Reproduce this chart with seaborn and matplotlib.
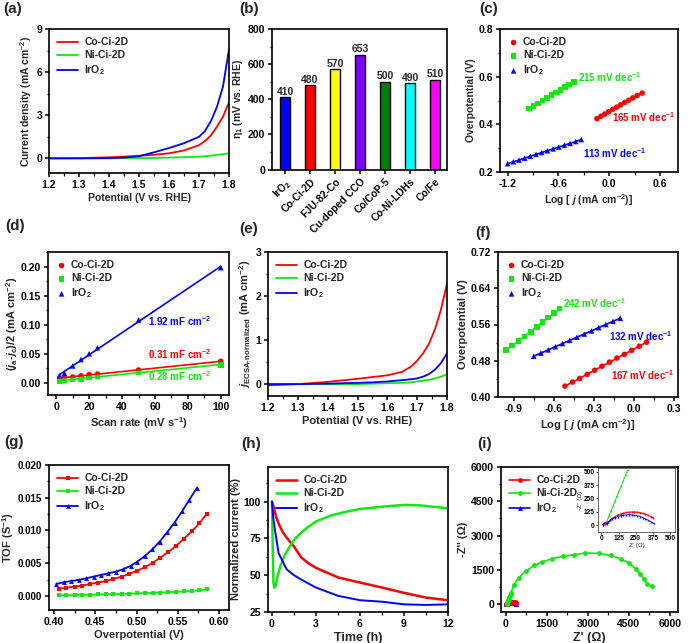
import numpy as np
import pandas as pd
import matplotlib
matplotlib.use('Agg')
import matplotlib.pyplot as plt
import seaborn as sns
from matplotlib.ticker import AutoMinorLocator, MultipleLocator, FixedLocator

# ---------------- data ----------------
labels3 = ['Co-Ci-2D', 'Ni-Ci-2D', 'IrO$_2$']

# (a) LSV
a_x = [1.20, 1.30, 1.40, 1.45, 1.50, 1.55, 1.60, 1.65, 1.70, 1.72, 1.74, 1.76, 1.78, 1.80]
a_co = [0.0, 0.02, 0.07, 0.12, 0.18, 0.25, 0.35, 0.55, 0.92, 1.2, 1.6, 2.2, 2.9, 3.9]
a_ni = [0.0, 0.0, 0.0, 0.01, 0.02, 0.03, 0.05, 0.08, 0.12, 0.15, 0.19, 0.24, 0.29, 0.35]
a_ir = [0.0, 0.0, 0.02, 0.05, 0.15, 0.42, 0.72, 1.05, 1.5, 1.9, 2.6, 3.6, 5.0, 7.6]

# (b) overpotential comparison
b_names = ['IrO$_2$', 'Co-Ci-2D', 'FJU-82-Co', 'Cu-doped CCO', 'Co/CoP-5', 'Co-Ni-LDHs', 'Co/Fe']
b_vals = [410, 480, 570, 653, 500, 490, 510]
b_colors = ['#0000ff', '#ff0000', '#ffff00', '#7f00ff', '#008000', '#00ffff', '#ff00ff']

# (c) Tafel
c_co_x = [-0.146, -0.099, -0.055, -0.008, 0.040, 0.087, 0.134, 0.182, 0.229, 0.277, 0.328, 0.387]
c_co_y = [0.424, 0.434, 0.443, 0.453, 0.463, 0.472, 0.482, 0.492, 0.501, 0.511, 0.521, 0.531]
c_ni_x = [-0.948, -0.895, -0.842, -0.789, -0.737, -0.684, -0.631, -0.578, -0.526, -0.473, -0.420]
c_ni_y = [0.466, 0.477, 0.488, 0.500, 0.511, 0.522, 0.533, 0.544, 0.556, 0.567, 0.578]
c_ir_x = [-1.200, -1.133, -1.066, -0.999, -0.932, -0.865, -0.798, -0.731, -0.664, -0.597,
          -0.530, -0.463, -0.396, -0.330]
c_ir_y = [0.235, 0.243, 0.250, 0.258, 0.266, 0.274, 0.282, 0.289, 0.297, 0.305, 0.313, 0.320,
          0.328, 0.336]

# (d) double-layer capacitance
d_x = [2, 5, 10, 15, 20, 25, 50, 100]
d_co = [0.008, 0.009, 0.010, 0.012, 0.014, 0.015, 0.022, 0.037]
d_ni = [0.003, 0.004, 0.006, 0.007, 0.009, 0.011, 0.018, 0.031]
d_ir = [0.012, 0.016, 0.029, 0.040, 0.050, 0.060, 0.108, 0.198]

# (e) ECSA-normalized LSV
e_x = [1.20, 1.30, 1.40, 1.50, 1.55, 1.60, 1.65, 1.68, 1.70, 1.72, 1.74, 1.76, 1.78, 1.80]
e_co = [-0.03, 0.0, 0.05, 0.12, 0.16, 0.20, 0.28, 0.40, 0.53, 0.70, 0.92, 1.25, 1.70, 2.28]
e_ni = [0.0, 0.0, 0.0, 0.0, 0.01, 0.02, 0.03, 0.04, 0.06, 0.08, 0.10, 0.13, 0.17, 0.22]
e_ir = [0.0, 0.0, 0.01, 0.03, 0.04, 0.06, 0.09, 0.11, 0.13, 0.17, 0.23, 0.33, 0.48, 0.70]

# (f) ECSA-normalized Tafel
f_co_x = [-0.518, -0.462, -0.407, -0.351, -0.295, -0.240, -0.184, -0.128, -0.073, -0.017, 0.039, 0.094]
f_co_y = [0.424, 0.433, 0.441, 0.450, 0.459, 0.468, 0.477, 0.486, 0.494, 0.503, 0.512, 0.521]
f_ni_x = [-0.958, -0.913, -0.865, -0.820, -0.774, -0.729, -0.686, -0.643, -0.601, -0.560]
f_ni_y = [0.504, 0.514, 0.524, 0.534, 0.544, 0.554, 0.565, 0.575, 0.585, 0.595]
f_ir_x = [-0.752, -0.698, -0.644, -0.590, -0.536, -0.482, -0.428, -0.373, -0.319, -0.265,
          -0.211, -0.157, -0.103]
f_ir_y = [0.490, 0.497, 0.504, 0.511, 0.518, 0.525, 0.532, 0.539, 0.546, 0.553, 0.560, 0.567, 0.574]

# (g) TOF
g_x = [0.406, 0.415, 0.425, 0.434, 0.444, 0.453, 0.463, 0.472, 0.482, 0.491, 0.501, 0.510,
       0.520, 0.529, 0.538, 0.548, 0.557, 0.567, 0.576, 0.585]
g_co = [0.00107, 0.00128, 0.00143, 0.00158, 0.00184, 0.00204, 0.0023, 0.0026, 0.00296, 0.00337,
        0.00388, 0.00439, 0.0051, 0.00587, 0.00668, 0.00765, 0.00872, 0.00985, 0.0111, 0.01255]
g_ni = [0.00010, 0.00012, 0.00015, 0.00017, 0.00020, 0.00023, 0.00026, 0.00029, 0.00032, 0.00036,
        0.00040, 0.00044, 0.00048, 0.00053, 0.00058, 0.00064, 0.00070, 0.00078, 0.00088, 0.00100]
g_ir_x = [0.403, 0.412, 0.421, 0.430, 0.439, 0.448, 0.457, 0.466, 0.475, 0.484, 0.493, 0.501,
          0.510, 0.519, 0.528, 0.537, 0.546, 0.555, 0.564, 0.573]
g_ir = [0.00184, 0.0021, 0.0023, 0.00245, 0.0027, 0.00296, 0.00321, 0.00347, 0.00372, 0.0041,
        0.0046, 0.00526, 0.0061, 0.0071, 0.0083, 0.0097, 0.0112, 0.0129, 0.0147, 0.0165]

# (h) chronoamperometry
h_co_t = [0, 0.1, 0.3, 0.5, 0.75, 1.0, 1.5, 2.0, 2.5, 3.0, 4.5, 6.0, 7.5, 9.0, 10.5, 12.0]
h_co = [100, 97, 89, 84, 79, 75.5, 69.5, 62, 58, 55, 48.5, 45, 41.6, 38, 34.8, 33]
h_ni_t = [0, 0.05, 0.1, 0.16, 0.25, 0.4, 0.6, 0.8, 1.0, 1.3, 1.6, 2.0, 2.5, 3.0, 3.5, 4.0, 5.0,
          6.0, 7.0, 8.0, 9.0, 10.0, 11.0, 12.0]
h_ni = [100, 70, 45, 41.5, 43, 50, 57, 62, 66, 71, 75, 79, 83, 86.5, 88.5, 90.5, 93, 95, 96,
        97, 97.7, 97.5, 96.5, 95.5]
h_ir_t = [0, 0.1, 0.2, 0.45, 1.0, 1.5, 2.0, 3.0, 4.5, 6.0, 7.5, 9.0, 10.5, 12.0]
h_ir = [100, 88, 81, 65, 54, 50, 47, 41.6, 36, 33, 32, 30.2, 29.8, 30.2]

# (i) Nyquist
i_ni_x = [28, 40, 55, 70, 85, 100, 115, 130, 145, 160, 175, 190, 282, 465, 734, 1040, 1322,
          1689, 2081, 2485, 2913, 3403, 3831, 4198, 4504, 4749, 4908, 5055, 5178, 5361]
i_ni_y = [0, 40, 85, 135, 180, 230, 275, 325, 370, 420, 465, 515, 830, 1164, 1456, 1703, 1849,
          1994, 2096, 2169, 2242, 2227, 2140, 1994, 1805, 1557, 1339, 1121, 873, 780]
i_co_x = [10, 20, 30, 40, 50, 65, 80, 100, 120, 140, 160, 180, 200, 220, 240, 260, 280, 300,
          320, 340, 360, 375]
i_co_y = [5, 15, 20, 15, 30, 50, 65, 80, 95, 105, 112, 118, 121, 123, 123, 121, 117, 110, 102,
          92, 80, 70]
i_ir_x = [10, 20, 30, 40, 50, 65, 80, 100, 120, 140, 160, 180, 200, 220, 240, 260, 280, 300,
          320, 340, 360, 380]
i_ir_y = [5, 15, 20, 12, 28, 45, 58, 70, 80, 88, 93, 96, 97, 96, 93, 88, 80, 70, 58, 45, 30, 15]

# ---------------- style ----------------
RED, GREEN, BLUE = '#ff0000', '#10e810', '#0000ff'
ANN = 7.0

sns.set_theme(style='ticks')
plt.rcParams.update({
    'font.family': ['Liberation Sans', 'DejaVu Sans'],
    'font.weight': 'bold',
    'font.size': 7.5,
    'axes.labelweight': 'bold',
    'axes.labelsize': 7.5,
    'axes.linewidth': 1.2,
    'axes.edgecolor': 'black',
    'axes.unicode_minus': False,
    'xtick.labelsize': 7.5,
    'ytick.labelsize': 7.5,
    'xtick.direction': 'out',
    'ytick.direction': 'out',
    'xtick.major.size': 3,
    'ytick.major.size': 3,
    'xtick.minor.size': 1.8,
    'ytick.minor.size': 1.8,
    'xtick.major.width': 1.1,
    'ytick.major.width': 1.1,
    'xtick.minor.width': 0.9,
    'ytick.minor.width': 0.9,
    'xtick.color': 'black',
    'ytick.color': 'black',
    'xtick.major.pad': 2,
    'ytick.major.pad': 2,
    'axes.labelpad': 2,
    'mathtext.fontset': 'custom',
    'mathtext.rm': 'Liberation Sans:bold',
    'mathtext.bf': 'Liberation Sans:bold',
    'mathtext.it': 'Liberation Sans:italic:bold',
    'mathtext.default': 'rm',
    'legend.fontsize': 7.5,
})

W, H = 693, 643
fig = plt.figure(figsize=(W / 100, H / 100), dpi=100)


def add_ax(l, t, r, b):
    return fig.add_axes([l / W, 1 - b / H, (r - l) / W, (b - t) / H])


def panel_label(x, y, s):
    fig.text(x / W, 1 - y / H, s, fontsize=11, fontweight='bold', va='top', ha='left')


def finish(ax, minor_x=True):
    ax.yaxis.set_minor_locator(AutoMinorLocator(2))
    if minor_x:
        ax.xaxis.set_minor_locator(AutoMinorLocator(2))
    for s in ax.spines.values():
        s.set_visible(True)
        s.set_linewidth(1.2)


def leg(ax, **kw):
    base = dict(loc='upper left', frameon=False, handlelength=2.0, handletextpad=0.6,
                labelspacing=0.3, borderaxespad=0.4, fontsize=7.5)
    base.update(kw)
    return ax.legend(**base)


# ---------------- (a) ----------------
ax = add_ax(49, 29, 229, 173)
for y, c, lab in [(a_co, RED, labels3[0]), (a_ni, GREEN, labels3[1]), (a_ir, BLUE, labels3[2])]:
    sns.lineplot(x=a_x, y=y, color=c, lw=1.3, ax=ax, label=lab, sort=False)
ax.set_xlim(1.2, 1.8)
ax.set_ylim(-1.02, 9)
ax.yaxis.set_major_locator(MultipleLocator(3))
ax.xaxis.set_major_locator(MultipleLocator(0.1))
ax.set_xlabel('Potential (V vs. RHE)')
ax.set_ylabel('Current density (mA cm$^{-2}$)')
finish(ax)
leg(ax)
panel_label(3, 2, '(a)')

# ---------------- (b) ----------------
ax = add_ax(272, 29, 447, 169.5)
dfb = pd.DataFrame({'name': b_names, 'val': b_vals})
sns.barplot(data=dfb, x='name', y='val', hue='name', palette=b_colors, legend=False,
            width=0.41, edgecolor='black', linewidth=1.0, saturation=1, ax=ax)
for cont in ax.containers:
    ax.bar_label(cont, fontsize=7.5, fontweight='bold', padding=0.5)
ax.set_xlim(-0.52, 6.47)
ax.set_ylim(0, 800)
ax.yaxis.set_major_locator(MultipleLocator(200))
ax.set_xlabel('')
ax.set_ylabel('η$_1$ (mV vs. RHE)')
ax.set_xticks(range(len(b_names)))
ax.set_xticklabels(b_names, rotation=45, ha='right', rotation_mode='anchor', fontsize=7.3)
finish(ax, minor_x=False)
panel_label(239, 2, '(b)')

# ---------------- (c) ----------------
ax = add_ax(500, 29, 678, 172)
for xs, ys, c, m, lab in [(c_co_x, c_co_y, RED, 'o', labels3[0]),
                          (c_ni_x, c_ni_y, GREEN, 's', labels3[1]),
                          (c_ir_x, c_ir_y, BLUE, '^', labels3[2])]:
    sns.regplot(x=xs, y=ys, ci=None, scatter=False, color=c, line_kws=dict(lw=1.2), ax=ax)
    sns.scatterplot(x=xs, y=ys, marker=m, color=c, s=16, edgecolor='none', ax=ax, label=lab)
ax.set_xlim(-1.29, 0.81)
ax.set_ylim(0.2, 0.8)
ax.xaxis.set_major_locator(FixedLocator([-1.2, -0.6, 0.0, 0.6]))
ax.yaxis.set_major_locator(MultipleLocator(0.2))
ax.set_xticklabels(['-1.2', '-0.6', '0.0', '0.6'])
ax.xaxis.set_minor_locator(FixedLocator([-0.9, -0.3, 0.3]))
ax.yaxis.set_minor_locator(AutoMinorLocator(2))
for s in ax.spines.values():
    s.set_visible(True)
ax.text(-0.37, 0.60, '215 mV dec$^{-1}$', color=GREEN, fontsize=ANN, fontweight='bold', va='center')
ax.text(0.035, 0.43, '165 mV dec$^{-1}$', color=RED, fontsize=ANN, fontweight='bold', va='center')
ax.text(-0.31, 0.28, '113 mV dec$^{-1}$', color=BLUE, fontsize=ANN, fontweight='bold', va='center')
ax.set_xlabel('Log [ $\\mathit{j}$ (mA cm$^{-2}$)]')
ax.set_ylabel('Overpotential (V)')
leg(ax, handlelength=1.0, handletextpad=0.4)
panel_label(479, 2, '(c)')

# ---------------- (d) ----------------
ax = add_ax(48, 252, 229, 395)
for ys, c, m, lab in [(d_co, RED, 'o', labels3[0]), (d_ni, GREEN, 's', labels3[1]),
                      (d_ir, BLUE, '^', labels3[2])]:
    sns.regplot(x=d_x, y=ys, ci=None, scatter=False, color=c, line_kws=dict(lw=1.2), ax=ax)
    sns.scatterplot(x=d_x, y=ys, marker=m, color=c, s=16, edgecolor='none', ax=ax, label=lab)
ax.set_xlim(-5, 105)
ax.set_ylim(-0.021, 0.225)
ax.xaxis.set_major_locator(MultipleLocator(20))
ax.yaxis.set_major_locator(MultipleLocator(0.05))
ax.yaxis.set_major_formatter(matplotlib.ticker.FormatStrFormatter('%.2f'))
ax.text(56, 0.106, '1.92 mF cm$^{-2}$', color=BLUE, fontsize=ANN, fontweight='bold', va='center')
ax.text(56, 0.049, '0.31 mF cm$^{-2}$', color=RED, fontsize=ANN, fontweight='bold', va='center')
ax.text(56, 0.012, '0.28 mF cm$^{-2}$', color=GREEN, fontsize=ANN, fontweight='bold', va='center')
ax.set_xlabel('Scan rate (mV s$^{-1}$)', fontsize=8)
ax.set_ylabel('($\\mathit{j}_a$-$\\mathit{j}_c$)/2 (mA cm$^{-2}$)', fontsize=8)
ax.yaxis.set_label_coords(-0.155, 0.5)
finish(ax)
leg(ax, handlelength=1.0, handletextpad=0.4)
panel_label(5, 219, '(d)')

# ---------------- (e) ----------------
ax = add_ax(268, 252, 447, 396)
for y, c, lab in [(e_co, RED, labels3[0]), (e_ni, GREEN, labels3[1]), (e_ir, BLUE, labels3[2])]:
    sns.lineplot(x=e_x, y=y, color=c, lw=1.3, ax=ax, label=lab, sort=False)
ax.set_xlim(1.2, 1.8)
ax.set_ylim(-0.27, 3)
ax.yaxis.set_major_locator(MultipleLocator(1))
ax.xaxis.set_major_locator(MultipleLocator(0.1))
ax.set_xlabel('Potential (V vs. RHE)', fontsize=8)
ax.set_ylabel('$\\mathit{j}_{\\mathrm{ECSA\u2010normalized}}$ (mA cm$^{-2}$)', fontsize=8)
finish(ax)
leg(ax)
panel_label(239, 222, '(e)')

# ---------------- (f) ----------------
ax = add_ax(498, 252, 678, 397)
for xs, ys, c, m, lab in [(f_co_x, f_co_y, RED, 'o', labels3[0]),
                          (f_ni_x, f_ni_y, GREEN, 's', labels3[1]),
                          (f_ir_x, f_ir_y, BLUE, '^', labels3[2])]:
    sns.regplot(x=xs, y=ys, ci=None, scatter=False, color=c, line_kws=dict(lw=1.2), ax=ax)
    sns.scatterplot(x=xs, y=ys, marker=m, color=c, s=16, edgecolor='none', ax=ax, label=lab)
ax.set_xlim(-1.02, 0.33)
ax.set_ylim(0.40, 0.72)
ax.xaxis.set_major_locator(FixedLocator([-0.9, -0.6, -0.3, 0.0, 0.3]))
ax.set_xticklabels(['-0.9', '-0.6', '-0.3', '0.0', '0.3'])
ax.yaxis.set_major_locator(MultipleLocator(0.08))
ax.yaxis.set_major_formatter(matplotlib.ticker.FormatStrFormatter('%.2f'))
ax.xaxis.set_minor_locator(FixedLocator([-0.75, -0.45, -0.15, 0.15]))
ax.yaxis.set_minor_locator(AutoMinorLocator(2))
for s in ax.spines.values():
    s.set_visible(True)
ax.text(-0.53, 0.608, '242 mV dec$^{-1}$', color=GREEN, fontsize=ANN, fontweight='bold', va='center')
ax.text(-0.19, 0.535, '132 mV dec$^{-1}$', color=BLUE, fontsize=ANN, fontweight='bold', va='center')
ax.text(-0.17, 0.449, '167 mV dec$^{-1}$', color=RED, fontsize=ANN, fontweight='bold', va='center')
ax.set_xlabel('Log [ $\\mathit{j}$ (mA cm$^{-2}$)]', fontsize=8)
ax.set_ylabel('Overpotential (V)', fontsize=8)
leg(ax, handlelength=1.0, handletextpad=0.4)
panel_label(475, 226, '(f)')

# ---------------- (g) ----------------
ax = add_ax(49, 465, 229, 610)
sns.lineplot(x=g_x, y=g_co, color=RED, lw=1.3, marker='s', markersize=3, markeredgewidth=0,
             ax=ax, label=labels3[0], sort=False)
sns.lineplot(x=g_x, y=g_ni, color=GREEN, lw=1.3, marker='s', markersize=3, markeredgewidth=0,
             ax=ax, label=labels3[1], sort=False)
sns.lineplot(x=g_ir_x, y=g_ir, color=BLUE, lw=1.3, marker='^', markersize=3.5, markeredgewidth=0,
             ax=ax, label=labels3[2], sort=False)
ax.set_xlim(0.394, 0.612)
ax.set_ylim(-0.00214, 0.020)
ax.xaxis.set_major_locator(MultipleLocator(0.05))
ax.yaxis.set_major_locator(MultipleLocator(0.005))
ax.xaxis.set_major_formatter(matplotlib.ticker.FormatStrFormatter('%.2f'))
ax.yaxis.set_major_formatter(matplotlib.ticker.FormatStrFormatter('%.3f'))
ax.tick_params(axis='y', labelsize=7)
ax.set_xlabel('Overpotential (V)', fontsize=8)
ax.set_ylabel('TOF (S$^{-1}$)', fontsize=8)
ax.yaxis.set_label_coords(-0.185, 0.5)
finish(ax)
leg(ax)
panel_label(4, 435, '(g)')

# ---------------- (h) ----------------
ax = add_ax(268, 467, 448, 612)
sns.lineplot(x=h_co_t, y=h_co, color=RED, lw=1.8, ax=ax, label=labels3[0], sort=False)
sns.lineplot(x=h_ni_t, y=h_ni, color=GREEN, lw=1.8, ax=ax, label=labels3[1], sort=False)
sns.lineplot(x=h_ir_t, y=h_ir, color=BLUE, lw=1.4, ax=ax, label=labels3[2], sort=False)
ax.set_xlim(-0.27, 12)
ax.set_ylim(25, 123.5)
ax.xaxis.set_major_locator(MultipleLocator(3))
ax.yaxis.set_major_locator(FixedLocator([25, 50, 75, 100]))
ax.set_xlabel('Time (h)', fontsize=9)
ax.set_ylabel('Normalized current (%)', fontsize=8)
finish(ax)
leg(ax)
panel_label(241, 437, '(h)')

# ---------------- (i) ----------------
ax = add_ax(501, 467, 678, 612)
sns.lineplot(x=i_co_x, y=i_co_y, color=RED, lw=1.2, marker='o', markersize=3.5,
             markeredgewidth=0, ax=ax, label=labels3[0], sort=False)
sns.lineplot(x=i_ni_x, y=i_ni_y, color=GREEN, lw=1.2, marker='o', markersize=3.5,
             markeredgewidth=0, ax=ax, label=labels3[1], sort=False)
sns.lineplot(x=i_ir_x, y=i_ir_y, color=BLUE, lw=1.2, marker='^', markersize=3.5,
             markeredgewidth=0, ax=ax, label=labels3[2], sort=False, zorder=1)
ax.set_xlim(-180, 6300)
ax.set_ylim(-335, 6000)
ax.xaxis.set_major_locator(MultipleLocator(1500))
ax.yaxis.set_major_locator(MultipleLocator(1500))
ax.set_xlabel("Z' (Ω)", fontsize=9)
ax.set_ylabel("-Z'' (Ω)", fontsize=8)
finish(ax)
leg(ax)
panel_label(477, 437, '(i)')

# inset
ins = add_ax(598, 468, 675, 532)
sns.lineplot(x=i_ni_x[:12], y=i_ni_y[:12], color=GREEN, lw=0.7, marker='o', markersize=1.2,
             markeredgewidth=0, ax=ins, sort=False, legend=False)
sns.lineplot(x=i_co_x, y=i_co_y, color=RED, lw=0.7, marker='o', markersize=1.4,
             markeredgewidth=0, ax=ins, sort=False, legend=False)
sns.lineplot(x=i_ir_x, y=i_ir_y, color=BLUE, lw=0.7, marker='^', markersize=1.4,
             markeredgewidth=0, ax=ins, sort=False, legend=False)
ins.set_xlim(-25, 535)
ins.set_ylim(-65, 535)
ins.xaxis.set_major_locator(MultipleLocator(125))
ins.yaxis.set_major_locator(MultipleLocator(125))
ins.tick_params(labelsize=4.8, length=1.5, width=0.5, pad=1)
for s in ins.spines.values():
    s.set_linewidth(0.6)
    s.set_color('#555555')
ins.set_xlabel("Z' (Ω)", fontsize=4.5, labelpad=0.5, fontweight='normal')
ins.set_ylabel("-Z'' (Ω)", fontsize=4.5, labelpad=0.5, fontweight='normal')

fig.savefig('out.png', dpi=100, facecolor='white')
